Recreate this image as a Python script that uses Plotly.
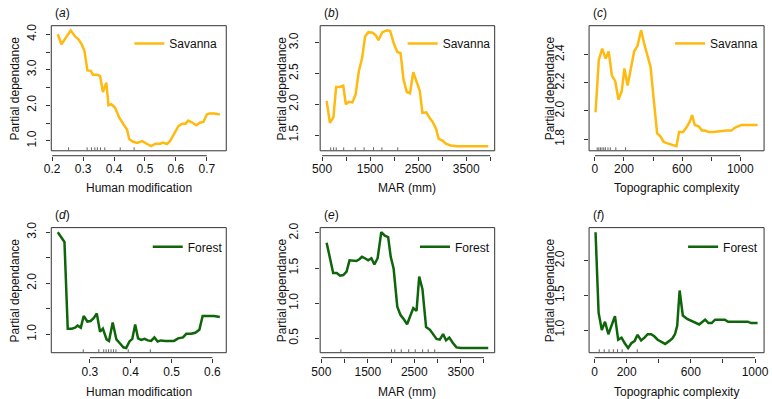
import plotly.graph_objects as go

W, H = 772, 399
FONT = "Liberation Sans, Arial, Helvetica, sans-serif"
SAV_COLOR = "#FFB90F"
FOR_COLOR = "#0E650A"

# ---------- (a) Savanna : Human modification ----------
a_x = [0.218, 0.230, 0.260, 0.274, 0.285, 0.295, 0.304, 0.314, 0.325, 0.332, 0.346, 0.355,
       0.364, 0.375, 0.382, 0.391, 0.403, 0.417, 0.431, 0.442, 0.449, 0.460, 0.475, 0.491,
       0.507, 0.520, 0.534, 0.550, 0.558, 0.571, 0.581, 0.594, 0.608, 0.620, 0.631, 0.640,
       0.650, 0.666, 0.677, 0.689, 0.700, 0.708, 0.724, 0.742]
a_y = [4.00, 3.72, 4.11, 3.94, 3.86, 3.72, 3.54, 2.98, 2.97, 2.86, 2.86, 2.82,
       2.37, 2.64, 2.00, 2.03, 1.94, 1.65, 1.46, 1.32, 1.05, 0.98, 0.94, 0.99,
       0.91, 0.85, 0.92, 0.92, 0.95, 0.91, 0.99, 1.18, 1.41, 1.48, 1.48, 1.57,
       1.53, 1.44, 1.51, 1.53, 1.74, 1.77, 1.77, 1.74]
a_rug = [0.253, 0.313, 0.327, 0.338, 0.346, 0.356, 0.370, 0.420, 0.465]
a_xticks = [0.2, 0.3, 0.4, 0.5, 0.6, 0.7]
a_xlabels = ["0.2", "0.3", "0.4", "0.5", "0.6", "0.7"]
a_yticks = [1.0, 1.5, 2.0, 2.5, 3.0, 3.5, 4.0]
a_ylabels = ["1.0", "", "2.0", "", "3.0", "", "4.0"]

# ---------- (b) Savanna : MAR ----------
b_x = [595, 663, 737, 792, 873, 941, 995, 1056, 1131, 1198, 1266, 1334, 1395, 1463,
       1551, 1619, 1673, 1754, 1856, 1917, 1992, 2066, 2134, 2195, 2263, 2330, 2398,
       2466, 2534, 2588, 2669, 2737, 2805, 2873, 2927, 3008, 3076, 3178, 3314, 3653, 3958]
b_y = [2.055, 1.70, 1.79, 2.28, 2.28, 2.30, 2.00, 2.04, 2.03, 2.16, 2.54, 2.75, 3.10, 3.17,
       3.16, 3.12, 3.04, 3.17, 3.20, 3.19, 2.99, 2.85, 2.83, 2.40, 2.20, 2.18, 2.52,
       2.35, 2.22, 1.86, 1.87, 1.78, 1.71, 1.60, 1.44, 1.41, 1.36, 1.33, 1.32, 1.32, 1.32]
b_rug = [680, 740, 795, 950, 1190, 1375, 1570, 1745, 2075]
b_xticks = [500, 1000, 1500, 2000, 2500, 3000, 3500, 4000]
b_xlabels = ["500", "", "1500", "", "2500", "", "3500", ""]
b_yticks = [1.5, 2.0, 2.5, 3.0]
b_ylabels = ["1.5", "2.0", "2.5", "3.0"]

# ---------- (c) Savanna : Topographic complexity ----------
c_x = [4.5, 27, 50, 74, 95, 117, 140, 162, 185, 203, 225, 248, 270, 293, 318, 338, 360,
       383, 399, 414, 428, 450, 473, 500, 534, 561, 579, 606, 628, 651, 669, 687, 714,
       736, 759, 782, 815, 849, 905, 939, 962, 984, 1007, 1052, 1119]
c_y = [1.99, 2.36, 2.44, 2.37, 2.42, 2.25, 2.21, 2.08, 2.14, 2.30, 2.18, 2.30, 2.42, 2.46,
       2.57, 2.48, 2.40, 2.31, 2.14, 1.98, 1.84, 1.82, 1.78, 1.77, 1.76, 1.75, 1.85, 1.85,
       1.88, 1.92, 1.97, 1.90, 1.89, 1.86, 1.86, 1.85, 1.85, 1.855, 1.86, 1.86, 1.88,
       1.89, 1.90, 1.90, 1.90]
c_rug = [16, 27, 38, 49, 61, 72, 90, 106, 144, 211]
c_xticks = [0, 200, 400, 600, 800, 1000]
c_xlabels = ["0", "200", "", "600", "", "1000"]
c_yticks = [1.8, 2.0, 2.2, 2.4]
c_ylabels = ["1.8", "2.0", "2.2", "2.4"]

# ---------- (d) Forest : Human modification ----------
d_x = [0.2216, 0.230, 0.238, 0.246, 0.256, 0.264, 0.270, 0.278, 0.285, 0.294, 0.302,
       0.310, 0.317, 0.325, 0.332, 0.341, 0.347, 0.356, 0.365, 0.374, 0.382, 0.389,
       0.397, 0.404, 0.411, 0.418, 0.426, 0.434, 0.442, 0.450, 0.458, 0.466, 0.474,
       0.484, 0.496, 0.506, 0.516, 0.528, 0.536, 0.548, 0.558, 0.568, 0.576, 0.588,
       0.604, 0.618]
d_y = [3.00, 2.90, 2.81, 1.11, 1.11, 1.13, 1.17, 1.13, 1.36, 1.25, 1.26,
       1.32, 1.41, 1.05, 1.11, 0.90, 0.87, 1.23, 0.90, 0.82, 0.745, 0.73,
       0.86, 0.91, 1.19, 0.92, 0.89, 0.91, 0.88, 0.87, 0.94, 0.86, 0.88,
       0.87, 0.87, 0.87, 0.92, 0.94, 1.01, 1.01, 1.03, 1.09, 1.36, 1.36,
       1.36, 1.34]
d_rug = [0.284, 0.322, 0.334, 0.340, 0.346, 0.352, 0.358, 0.364, 0.394, 0.448]
d_xticks = [0.3, 0.4, 0.5, 0.6]
d_xlabels = ["0.3", "0.4", "0.5", "0.6"]
d_yticks = [1.0, 1.5, 2.0, 2.5, 3.0]
d_ylabels = ["1.0", "", "2.0", "", "3.0"]

# ---------- (e) Forest : MAR ----------
e_x = [613, 690, 754, 831, 901, 972, 1042, 1106, 1183, 1254, 1324, 1373, 1437, 1507,
       1577, 1641, 1711, 1789, 1866, 1937, 1993, 2056, 2134, 2204, 2275, 2345, 2415,
       2479, 2549, 2606, 2676, 2754, 2838, 2908, 2979, 3049, 3120, 3183, 3254, 3324,
       3408, 3507, 3789, 4092]
e_y = [1.86, 1.64, 1.43, 1.43, 1.39, 1.40, 1.45, 1.61, 1.60, 1.60, 1.63, 1.66, 1.64, 1.61,
       1.64, 1.55, 1.64, 2.01, 1.96, 1.94, 1.66, 1.49, 0.95, 0.83, 0.77, 0.70, 0.82,
       0.93, 0.89, 1.38, 1.20, 0.66, 0.62, 0.56, 0.49, 0.48, 0.56, 0.47, 0.51, 0.44,
       0.37, 0.36, 0.36, 0.36]
e_rug = [920, 2010, 2080, 2220, 2380, 2520, 2680, 2800, 2940]
e_xticks = [500, 1000, 1500, 2000, 2500, 3000, 3500, 4000]
e_xlabels = ["500", "", "1500", "", "2500", "", "3500", ""]
e_yticks = [0.5, 1.0, 1.5, 2.0]
e_ylabels = ["0.5", "1.0", "1.5", "2.0"]

# ---------- (f) Forest : Topographic complexity ----------
f_x = [6, 25, 45, 65, 86, 106, 127, 147, 168, 188, 209, 229, 249, 268, 290, 311, 331,
       352, 372, 393, 413, 440, 464, 485, 501, 515, 530, 550, 577, 603, 628, 652, 673,
       689, 710, 730, 751, 781, 812, 832, 863, 894, 924, 955, 975, 1016]
f_y = [2.41, 1.25, 1.00, 1.12, 0.94, 1.08, 1.20, 0.86, 0.89, 0.81, 0.74, 0.81, 0.84, 0.93,
       0.85, 0.89, 0.94, 0.94, 0.91, 0.86, 0.83, 0.80, 0.84, 0.88, 0.94, 1.06, 1.57, 1.21,
       1.16, 1.13, 1.11, 1.08, 1.12, 1.15, 1.10, 1.10, 1.15, 1.15, 1.15, 1.12, 1.12, 1.12,
       1.12, 1.12, 1.10, 1.10]
f_rug = [29, 60, 90, 117, 143, 172, 266]
f_xticks = [0, 200, 400, 600, 800, 1000]
f_xlabels = ["0", "200", "", "600", "", "1000"]
f_yticks = [1.0, 1.5, 2.0]
f_ylabels = ["1.0", "1.5", "2.0"]

panel_letters = ["a", "b", "c", "d", "e", "f"]
series_names = ["Savanna", "Savanna", "Savanna", "Forest", "Forest", "Forest"]
x_titles = ["Human modification", "MAR (mm)", "Topographic complexity",
            "Human modification", "MAR (mm)", "Topographic complexity"]
y_title = "Partial dependance"

panels = [
    (a_x, a_y, a_rug, a_xticks, a_xlabels, a_yticks, a_ylabels),
    (b_x, b_y, b_rug, b_xticks, b_xlabels, b_yticks, b_ylabels),
    (c_x, c_y, c_rug, c_xticks, c_xlabels, c_yticks, c_ylabels),
    (d_x, d_y, d_rug, d_xticks, d_xlabels, d_yticks, d_ylabels),
    (e_x, e_y, e_rug, e_xticks, e_xlabels, e_yticks, e_ylabels),
    (f_x, f_y, f_rug, f_xticks, f_xlabels, f_yticks, f_ylabels),
]


def ext(v):
    lo, hi = min(v), max(v)
    pad = 0.04 * (hi - lo)
    return [lo - pad, hi + pad]


def px_x(px):  # page pixel -> paper x
    return px / W


def px_y(py):  # page pixel -> paper y
    return 1 - py / H


# layout geometry (page pixels)
cols = [(43, 221), (316.5, 494), (590, 768)]
rows = [(20, 147), (225, 352)]
ytick_standoff = [5, 12, 15]      # per column
ytitle_shift = [-36, -38, -39]    # per column
xtitle_shift = [-37, -39.5]       # per row
xtick_standoff = [-2, -1]         # per row
legend_text_gap = [9, 4, 6, 3.5, 4.7, 6]  # text right edge -> box right, per panel
legend_mid = [18, 19.5]           # legend centre below box top, per row
AXIS_GAP = 5
AXIS_COLOR = "#333333"

fig = go.Figure()
layout = dict(
    width=W, height=H, margin=dict(l=0, r=0, t=0, b=0),
    paper_bgcolor="white", plot_bgcolor="white",
    font=dict(family=FONT, size=12, color="#111111"),
)
shapes, annotations = [], []

for i, (xs, ys, rug, xt, xl, yt, yl) in enumerate(panels):
    r, c = divmod(i, 3)
    n = i + 1
    sfx = "" if n == 1 else str(n)
    xa, ya = "x" + sfx, "y" + sfx
    leg = "legend" + sfx
    color = SAV_COLOR if series_names[i] == "Savanna" else FOR_COLOR
    x0, x1 = cols[c]
    top, bot = rows[r]

    fig.add_trace(go.Scatter(
        x=xs, y=ys, mode="lines", name=series_names[i],
        line=dict(color=color, width=2.5), xaxis=xa, yaxis=ya,
        legend=leg, showlegend=True,
    ))

    axis_pos = px_y(bot + AXIS_GAP)
    layout["xaxis" + sfx] = dict(
        domain=[px_x(x0), px_x(x1)], range=ext(xs), anchor="free", position=axis_pos,
        tickmode="array", tickvals=xt, ticktext=xl, ticks="outside", ticklen=4,
        tickcolor=AXIS_COLOR, tickwidth=1, showline=False, showgrid=False,
        zeroline=False, tickfont=dict(size=12, color="#111111"),
        ticklabelstandoff=xtick_standoff[r], ticklabeloverflow="allow",
        fixedrange=True,
    )
    layout["yaxis" + sfx] = dict(
        domain=[px_y(bot), px_y(top)], range=ext(ys), anchor=xa,
        tickmode="array", tickvals=yt, ticktext=yl, ticks="outside", ticklen=4,
        tickcolor=AXIS_COLOR, tickwidth=1, tickangle=-90, showline=False,
        showgrid=False, zeroline=False, tickfont=dict(size=12, color="#111111"),
        ticklabelstandoff=ytick_standoff[c], fixedrange=True,
    )
    layout[leg] = dict(
        x=px_x(x1 - legend_text_gap[i] + 5), xanchor="right",
        y=px_y(top + legend_mid[r]), yanchor="middle",
        bgcolor="rgba(0,0,0,0)", borderwidth=0, font=dict(size=12, color="#111111"),
    )

    # plot box
    shapes.append(dict(type="rect", xref=xa + " domain", yref=ya + " domain",
                       x0=0, x1=1, y0=0, y1=1, line=dict(color=AXIS_COLOR, width=1)))
    # x axis line spanning first to last tick
    shapes.append(dict(type="line", xref=xa, yref="paper", x0=xt[0], x1=xt[-1],
                       y0=axis_pos, y1=axis_pos, line=dict(color=AXIS_COLOR, width=1)))
    # rug marks
    for rv in rug:
        shapes.append(dict(type="line", xref=xa, yref=ya + " domain", x0=rv, x1=rv,
                           y0=0, y1=3.5 / (bot - top), line=dict(color="#666666", width=1)))

    # axis titles and panel label
    annotations.append(dict(text=y_title, xref=xa + " domain", yref=ya + " domain",
                            x=0, y=0.5, xshift=ytitle_shift[c], textangle=-90,
                            showarrow=False, xanchor="center", yanchor="middle",
                            font=dict(size=12)))
    annotations.append(dict(text=x_titles[i], xref=xa + " domain", yref=ya + " domain",
                            x=0.5, y=0, yshift=xtitle_shift[r], showarrow=False,
                            xanchor="center", yanchor="middle", font=dict(size=12)))
    annotations.append(dict(text="(<i>%s</i>)" % panel_letters[i], xref=xa + " domain",
                            yref=ya + " domain", x=0, y=1, xshift=2, yshift=13,
                            showarrow=False, xanchor="left", yanchor="middle",
                            font=dict(size=12)))

layout["shapes"] = shapes
layout["annotations"] = annotations
fig.update_layout(**layout)
fig.write_html("out.html", config={"displayModeBar": False},
               post_script="document.body.style.margin='0';document.body.style.overflow='hidden';")
